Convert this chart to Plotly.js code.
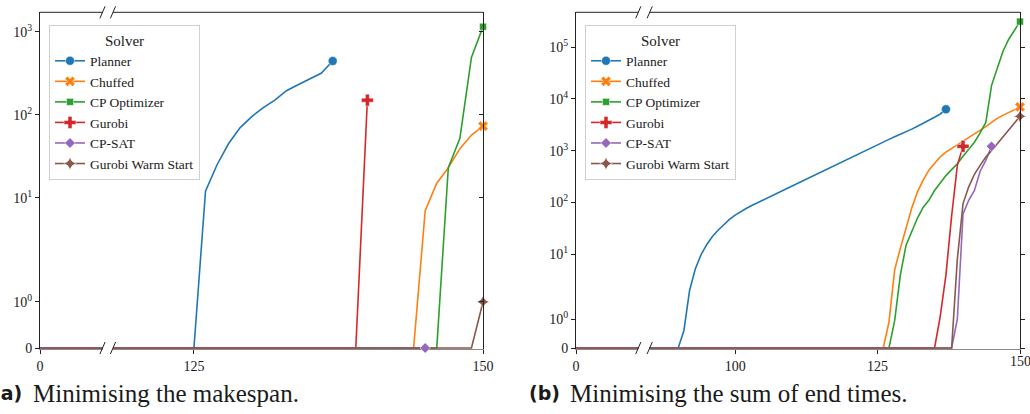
<!DOCTYPE html>
<html><head><meta charset="utf-8">
<script src="https://cdn.plot.ly/plotly-3.0.1.min.js"></script>
<style>html,body{margin:0;padding:0;background:#fff;}#chart{width:1030px;height:414px;}</style>
</head><body><div id="chart"></div>
<script>
// ---------- data ----------
const solvers = ["Planner", "Chuffed", "CP Optimizer", "Gurobi", "CP-SAT", "Gurobi Warm Start"];
const colors = ["#1f77b4", "#ff7f0e", "#2ca02c", "#d62728", "#9467bd", "#8c564b"];
const symbols = ["circle", "x", "square", "cross", "diamond", "star-diamond"];

// (a) Minimising the makespan
const a_planner_x = [0, 125, 126, 127, 128, 129, 130, 131, 132, 133, 134, 135, 136, 137];
const a_planner_y = [0, 0, 12, 25, 45, 70, 95, 122, 150, 195, 230, 270, 316, 444];
const a_chuffed_x = [0, 144, 145, 146, 147, 148, 149, 150];
const a_chuffed_y = [0, 0, 7, 15, 23, 39, 57, 73];
const a_cpopt_x = [0, 146, 147, 148, 149, 150];
const a_cpopt_y = [0, 0, 23, 52, 490, 1150];
const a_gurobi_x = [0, 139, 140];
const a_gurobi_y = [0, 0, 150];
const a_cpsat_x = [0, 145];
const a_cpsat_y = [0, 0];
const a_gws_x = [0, 149, 150];
const a_gws_y = [0, 0, 1];

// (b) Minimising the sum of end times
const b_planner_x = [0, 90, 91, 92, 93, 94, 95, 96, 97, 98, 99, 100, 101, 102, 103, 104, 105, 106, 107, 108, 109, 110,
  111, 112, 113, 114, 115, 116, 117, 118, 119, 120, 121, 122, 123, 124, 125, 126, 127, 128, 129, 130, 131, 132, 133,
  134, 135, 136, 137];
const b_planner_y = [0, 0, 0.6, 2.0, 5.2, 9.7, 15.3, 22, 29, 37, 47, 57, 67, 77, 88, 100, 113, 127, 144, 163, 184, 208,
  235, 266, 300, 340, 384, 434, 491, 555, 627, 709, 801, 905, 1023, 1156, 1306, 1476, 1650, 1850, 2050, 2300, 2600,
  2950, 3350, 3850, 4400, 5100, 6280];
const b_chuffed_x = [0, 126, 127, 128, 129, 130, 131, 132, 133, 134, 135, 136, 137, 138, 139, 140, 141, 142, 143, 144,
  145, 146, 147, 148, 149, 150];
const b_chuffed_y = [0, 0, 0.9, 5, 13, 33, 78, 160, 270, 420, 580, 760, 940, 1100, 1300, 1550, 1800, 2100, 2450, 2900,
  3500, 4200, 4800, 5500, 6200, 6970];
const b_cpopt_x = [0, 127, 128, 129, 130, 131, 132, 133, 134, 135, 136, 137, 138, 139, 140, 141, 142, 143, 144, 145,
  146, 147, 148, 149, 150];
const b_cpopt_y = [0, 0, 0.95, 4, 15, 28, 50, 80, 110, 170, 240, 330, 430, 560, 780, 1050, 1450, 2200, 3500, 18000,
  40000, 82000, 140000, 210000, 310000];
const b_gurobi_x = [0, 135, 136, 137, 138, 139, 140];
const b_gurobi_y = [0, 0, 1.1, 4, 55, 520, 1210];
const b_cpsat_x = [0, 138, 139, 140, 141, 142, 143, 144, 145];
const b_cpsat_y = [0, 0, 1, 60, 110, 170, 400, 650, 1210];
const b_gws_x = [0, 138, 139, 140, 141, 142, 143, 144, 145, 146, 147, 148, 149, 150];
const b_gws_y = [0, 0, 8, 95, 200, 350, 520, 750, 1000, 1360, 1840, 2500, 3390, 4600];

const a_ticks = [0, 1, 10, 100, 1000];
const a_ticktext = ["0", "10<sup>0</sup>", "10<sup>1</sup>", "10<sup>2</sup>", "10<sup>3</sup>"];
const b_ticks = [0, 1, 10, 100, 1000, 10000, 100000];
const b_ticktext = ["0", "10<sup>0</sup>", "10<sup>1</sup>", "10<sup>2</sup>", "10<sup>3</sup>", "10<sup>4</sup>", "10<sup>5</sup>"];
const a_xticks = [125, 150];
const b_xticks = [100, 125, 150];

// ---------- symlog transform (linthresh 2, linscale 1) ----------
const LT = 2, LS = 1 / (1 - 1 / 10);
const G = v => (v <= LT ? v * LS / LT : LS + Math.log10(v / LT));

// ---------- layout helpers ----------
const W = 1030, H = 414;
const px = x => x / W, py = y => 1 - y / H;
const FONT = "Liberation Serif, Times New Roman, serif";
const TXT = "#1a1a1a";

const panels = [
  {series: [[a_planner_x, a_planner_y], [a_chuffed_x, a_chuffed_y], [a_cpopt_x, a_cpopt_y],
            [a_gurobi_x, a_gurobi_y], [a_cpsat_x, a_cpsat_y], [a_gws_x, a_gws_y]],
   ax1: ["x", "y"], ax2: ["x2", "y2"], legend: "legend"},
  {series: [[b_planner_x, b_planner_y], [b_chuffed_x, b_chuffed_y], [b_cpopt_x, b_cpopt_y],
            [b_gurobi_x, b_gurobi_y], [b_cpsat_x, b_cpsat_y], [b_gws_x, b_gws_y]],
   ax1: ["x3", "y3"], ax2: ["x4", "y4"], legend: "legend2"}
];
const msize = [9, 9, 7, 10, 8, 9];

const traces = [];
panels.forEach(p => {
  // line copies in the first (left) segment
  p.series.forEach((s, i) => {
    traces.push({x: s[0], y: s[1].map(G), xaxis: p.ax1[0], yaxis: p.ax1[1], mode: "lines",
      line: {color: colors[i], width: 1.6}, showlegend: false, hoverinfo: "skip"});
  });
  // lines in the main segment
  p.series.forEach((s, i) => {
    traces.push({x: s[0], y: s[1].map(G), xaxis: p.ax2[0], yaxis: p.ax2[1], mode: "lines",
      line: {color: colors[i], width: 1.6}, showlegend: false, hoverinfo: "skip"});
  });
  // end markers
  p.series.forEach((s, i) => {
    const n = s[0].length - 1;
    traces.push({x: [s[0][n]], y: [G(s[1][n])], xaxis: p.ax2[0], yaxis: p.ax2[1], mode: "markers",
      cliponaxis: false,
      marker: {symbol: symbols[i], size: msize[i], color: colors[i], line: {color: "#ffffff", width: 0.5}},
      showlegend: false, hoverinfo: "skip"});
  });
  // legend entries
  p.series.forEach((s, i) => {
    traces.push({x: [null], y: [null], xaxis: p.ax2[0], yaxis: p.ax2[1], mode: "lines+markers",
      name: solvers[i], legend: p.legend,
      line: {color: colors[i], width: 1.6},
      marker: {symbol: symbols[i], size: msize[i], color: colors[i], line: {color: "#ffffff", width: 0.5}}});
  });
});

const baseX = {showgrid: false, zeroline: false, showline: true, linecolor: "#8a8a8a", linewidth: 1,
  layer: "below traces", ticks: "outside", ticklen: 4, tickcolor: "#222", tickwidth: 1,
  ticklabeloverflow: "allow",
  tickfont: {family: FONT, size: 14, color: TXT}, tickmode: "array", fixedrange: true};
const baseY = {showgrid: false, zeroline: false, showline: true, linecolor: "#222", linewidth: 1,
  ticks: "outside", ticklen: 4, tickcolor: "#222", tickwidth: 1,
  tickfont: {family: FONT, size: 14, color: TXT}, tickmode: "array", fixedrange: true};

const aTop = 12.3, bottom = 348;
const aDec = 83, bDec = 51.8;
const aRange = [-1 / aDec, (bottom - aTop) / aDec];
const bRange = [-1 / bDec, (bottom - aTop) / bDec];
const yDom = [py(bottom + 1), py(aTop)];

const legendBase = {xanchor: "left", yanchor: "top", bgcolor: "rgba(255,255,255,0.85)",
  bordercolor: "#d0d0d0", borderwidth: 1, font: {family: FONT, size: 13.5, color: TXT},
  title: {text: "Solver", side: "top center", font: {family: FONT, size: 15, color: TXT}},
  tracegroupgap: 0, itemclick: false, itemdoubleclick: false};

// the last label of panel (b) sits at the page edge; it is written as an annotation so it is not hidden
const bLast = b_xticks[b_xticks.length - 1];

const layout = {
  width: W, height: H, autosize: false,
  margin: {l: 0, r: 0, t: 0, b: 0, pad: 0},
  paper_bgcolor: "#ffffff", plot_bgcolor: "rgba(0,0,0,0)",
  showlegend: true,
  xaxis: Object.assign({}, baseX, {domain: [px(40), px(102.5)], range: [0, 5.4], anchor: "y",
    tickvals: [0], ticktext: ["0"]}),
  xaxis2: Object.assign({}, baseX, {domain: [px(113), px(483)], range: [118, 150], anchor: "y2",
    tickvals: a_xticks, ticktext: a_xticks.map(String)}),
  yaxis: Object.assign({}, baseY, {domain: yDom, range: aRange, anchor: "x",
    tickvals: a_ticks.map(G), ticktext: a_ticktext}),
  yaxis2: Object.assign({}, baseY, {domain: yDom, range: aRange, anchor: "x2", side: "right",
    ticks: "inside", showticklabels: false, tickvals: a_ticks.map(G)}),
  xaxis3: Object.assign({}, baseX, {domain: [px(576), px(638.3)], range: [0, 10.9], anchor: "y3",
    tickvals: [0], ticktext: ["0"]}),
  xaxis4: Object.assign({}, baseX, {domain: [px(649.7), px(1020)], range: [85, 150], anchor: "y4",
    tickvals: b_xticks, ticktext: b_xticks.map(v => (v === bLast ? "" : String(v)))}),
  yaxis3: Object.assign({}, baseY, {domain: yDom, range: bRange, anchor: "x3",
    tickvals: b_ticks.map(G), ticktext: b_ticktext}),
  yaxis4: Object.assign({}, baseY, {domain: yDom, range: bRange, anchor: "x4", side: "right",
    ticks: "outside", showticklabels: false, tickvals: b_ticks.map(G)}),
  legend: Object.assign({}, legendBase, {x: px(49), y: py(25)}),
  legend2: Object.assign({}, legendBase, {x: px(585), y: py(25)}),
  shapes: [],
  annotations: [
    {text: String(bLast), xref: "x4", yref: "paper", x: bLast, y: py(352), xanchor: "center", yanchor: "top",
      showarrow: false, font: {family: FONT, size: 14, color: TXT}},
    {text: "<b>(a)</b>", xref: "paper", yref: "paper", x: px(-10), y: py(393), xanchor: "left", yanchor: "middle",
      showarrow: false, font: {family: "DejaVu Sans, sans-serif", size: 19, color: TXT}},
    {text: "Minimising the makespan.", xref: "paper", yref: "paper", x: px(31), y: py(393), xanchor: "left",
      yanchor: "middle", showarrow: false, font: {family: FONT, size: 25, color: TXT}},
    {text: "<b>(b)</b>", xref: "paper", yref: "paper", x: px(527), y: py(393), xanchor: "left", yanchor: "middle",
      showarrow: false, font: {family: "DejaVu Sans, sans-serif", size: 19, color: TXT}},
    {text: "Minimising the sum of end times.", xref: "paper", yref: "paper", x: px(568), y: py(393),
      xanchor: "left", yanchor: "middle", showarrow: false, font: {family: FONT, size: 25, color: TXT}}
  ]
};

// frame: top spines and break marks
const addLine = (x0, y0, x1, y1, color) => layout.shapes.push({type: "line", xref: "paper", yref: "paper",
  x0: px(x0), y0: py(y0), x1: px(x1), y1: py(y1), line: {color: color, width: 1}, layer: "above"});
[[40, 102.5, 113, 483], [576, 638.3, 649.7, 1020]].forEach(b => {
  addLine(b[0], aTop, b[1], aTop, "#222");
  addLine(b[2], aTop, b[3], aTop, "#222");
  [b[1], b[2]].forEach(cx => {
    addLine(cx - 2.6, aTop + 6, cx + 2.6, aTop - 6, "#222");
    addLine(cx - 2.6, bottom + 6, cx + 2.6, bottom - 6, "#222");
  });
});

Plotly.newPlot("chart", traces, layout, {staticPlot: true, displayModeBar: false});
</script>
</body></html>
